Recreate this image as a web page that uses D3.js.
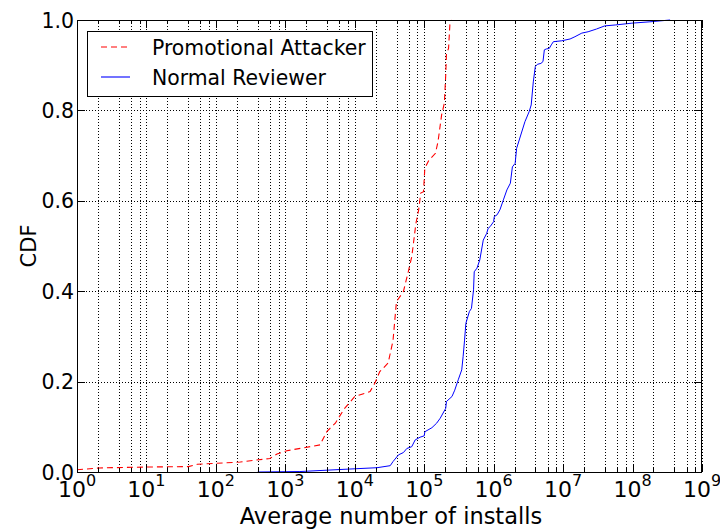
<!DOCTYPE html>
<html>
<head>
<meta charset="utf-8">
<script src="https://cdn.jsdelivr.net/npm/d3@7"></script>
<style>
  html, body { margin: 0; padding: 0; background: #fff; }
  svg { display: block; font-family: "DejaVu Sans", sans-serif; }
</style>
</head>
<body>
<svg id="chart" width="720" height="531"></svg>
<script>
// Empirical CDF of average installs per reviewed app
const attackerInstalls = [1, 2.1, 10, 40, 54, 224, 600, 760, 1050, 3160, 3980, 5250, 7080, 10000,
  16600, 19500, 22900, 30200, 35500, 39800, 50100, 58900, 66100, 69200, 75900, 83200, 89100,
  97700, 102000, 117000, 145000, 158000, 178000, 195000, 204000, 209000, 224000, 234000, 251000];
const attackerCdf = [0.005, 0.009, 0.011, 0.012, 0.017, 0.022, 0.030, 0.040, 0.047, 0.060, 0.090,
  0.108, 0.140, 0.167, 0.178, 0.197, 0.222, 0.241, 0.290, 0.377, 0.399, 0.443, 0.476, 0.500, 0.550,
  0.580, 0.617, 0.620, 0.672, 0.690, 0.705, 0.731, 0.790, 0.816, 0.878, 0.926, 0.937, 0.989, 1.0];

const normalInstalls = [400, 1620, 8510, 20900, 32400, 35500, 42700, 50100, 56200, 66100, 74100,
  87100, 100000, 102000, 129000, 151000, 170000, 204000, 209000, 251000, 275000, 309000, 347000,
  363000, 380000, 398000, 447000, 479000, 513000, 525000, 575000, 631000, 708000, 794000, 832000,
  891000, 1000000, 1020000, 1120000, 1230000, 1380000, 1550000, 1740000, 1860000, 2040000,
  2140000, 2820000, 3240000, 3470000, 3720000, 3980000, 4270000, 4790000, 5130000, 5370000,
  5750000, 6310000, 6760000, 7240000, 9550000, 12600000, 14800000, 18600000, 22900000,
  30200000, 39800000, 56200000, 97700000, 178000000, 347000000];
const normalCdf = [0, 0.001, 0.0066, 0.0095, 0.014, 0.023, 0.038, 0.043, 0.052, 0.056, 0.071,
  0.077, 0.080, 0.089, 0.098, 0.108, 0.119, 0.141, 0.156, 0.167, 0.181, 0.204, 0.226, 0.255,
  0.290, 0.329, 0.355, 0.362, 0.403, 0.443, 0.451, 0.469, 0.513, 0.528, 0.539, 0.543, 0.554,
  0.565, 0.569, 0.580, 0.602, 0.624, 0.639, 0.675, 0.683, 0.716, 0.775, 0.797, 0.812, 0.863,
  0.897, 0.902, 0.904, 0.908, 0.934, 0.936, 0.937, 0.945, 0.952, 0.954, 0.958, 0.963, 0.971,
  0.974, 0.980, 0.987, 0.989, 0.993, 0.996, 1.0];

const seriesNames = ["Promotional Attacker", "Normal Reviewer"];
const xExponents = [0, 1, 2, 3, 4, 5, 6, 7, 8, 9];
const minorMultipliers = [2, 4, 6, 8];
const yTickValues = [0.0, 0.2, 0.4, 0.6, 0.8, 1.0];
const xLabel = "Average number of installs";
const yLabel = "CDF";

const svg = d3.select("#chart");
const L = 77, R = 702, T = 20, B = 472;

const x = d3.scaleLog().domain([1, 1e9]).range([L, R]);
const y = d3.scaleLinear().domain([0, 1]).range([B, T]);

// minor positions inside each decade
const minorVals = [];
xExponents.slice(0, -1).forEach(e => {
  minorMultipliers.forEach(k => minorVals.push(k * Math.pow(10, e)));
});
const majorVals = xExponents.map(e => Math.pow(10, e));

const grid = svg.append("g").attr("stroke", "#000").attr("stroke-width", 1)
  .attr("stroke-dasharray", "1,2").attr("fill", "none");
majorVals.concat(minorVals).forEach(v => {
  const px = Math.round(x(v)) + 0.5;
  grid.append("line").attr("x1", px).attr("x2", px).attr("y1", T).attr("y2", B);
});
yTickValues.forEach(v => {
  const py = Math.round(y(v)) + 0.5;
  grid.append("line").attr("x1", L).attr("x2", R).attr("y1", py).attr("y2", py);
});

// curves
const line = d3.line().x(d => x(d[0])).y(d => y(d[1]));
const attackerPts = attackerInstalls.map((v, i) => [v, attackerCdf[i]]);
const normalPts = normalInstalls.map((v, i) => [v, normalCdf[i]]);

svg.append("path").datum(normalPts).attr("d", line)
  .attr("fill", "none").attr("stroke", "#0000ff").attr("stroke-width", 1);
svg.append("path").datum(attackerPts).attr("d", line)
  .attr("fill", "none").attr("stroke", "#ff0000").attr("stroke-width", 1.1)
  .attr("stroke-dasharray", "6,4");

// frame
svg.append("rect").attr("x", L + 0.5).attr("y", T + 0.5)
  .attr("width", R - L - 1).attr("height", B - T)
  .attr("fill", "none").attr("stroke", "#000").attr("stroke-width", 1);

// inward ticks on all four sides
const ticks = svg.append("g").attr("stroke", "#000").attr("stroke-width", 1);
majorVals.forEach(v => {
  const px = Math.round(x(v)) + 0.5;
  ticks.append("line").attr("x1", px).attr("x2", px).attr("y1", B).attr("y2", B - 8);
  ticks.append("line").attr("x1", px).attr("x2", px).attr("y1", T).attr("y2", T + 8);
});
minorVals.forEach(v => {
  const px = Math.round(x(v)) + 0.5;
  ticks.append("line").attr("x1", px).attr("x2", px).attr("y1", B).attr("y2", B - 4);
  ticks.append("line").attr("x1", px).attr("x2", px).attr("y1", T).attr("y2", T + 4);
});
yTickValues.forEach(v => {
  const py = Math.round(y(v)) + 0.5;
  ticks.append("line").attr("x1", L).attr("x2", L + 8).attr("y1", py).attr("y2", py);
  ticks.append("line").attr("x1", R).attr("x2", R - 8).attr("y1", py).attr("y2", py);
});

// y tick labels
svg.append("g").selectAll("text").data(yTickValues).join("text")
  .attr("x", L - 3).attr("y", d => y(d) + 7.5)
  .attr("text-anchor", "end").attr("font-size", 20.5).attr("fill", "#000")
  .text(d => d.toFixed(1));

// x tick labels as 10 with superscript exponent
const xl = svg.append("g").selectAll("text").data(xExponents).join("text")
  .attr("x", d => x(Math.pow(10, d))).attr("y", 497)
  .attr("text-anchor", "middle").attr("font-size", 22).attr("fill", "#000");
xl.append("tspan").text("10");
xl.append("tspan").attr("dy", -11).attr("font-size", 16).text(d => d);

// axis titles
svg.append("text").attr("x", 391).attr("y", 524)
  .attr("text-anchor", "middle").attr("font-size", 22.5).text(xLabel);
svg.append("text").attr("transform", `translate(36,${(T + B) / 2}) rotate(-90)`)
  .attr("text-anchor", "middle").attr("font-size", 21).text(yLabel);

// legend
const lg = svg.append("g");
lg.append("rect").attr("x", 87.5).attr("y", 31.5).attr("width", 285).attr("height", 65)
  .attr("fill", "#fff").attr("stroke", "#000").attr("stroke-width", 1);
const legendStyles = [
  { color: "#ff0000", dash: "6,4" },
  { color: "#0000ff", dash: null }
];
seriesNames.forEach((name, i) => {
  const cy = 47 + i * 30;
  lg.append("line").attr("x1", 101).attr("x2", 130).attr("y1", cy).attr("y2", cy)
    .attr("stroke", legendStyles[i].color).attr("stroke-width", 1.1)
    .attr("stroke-dasharray", legendStyles[i].dash);
  lg.append("text").attr("x", 152).attr("y", cy + 7.5).attr("font-size", 20.4).text(name);
});
</script>
</body>
</html>
